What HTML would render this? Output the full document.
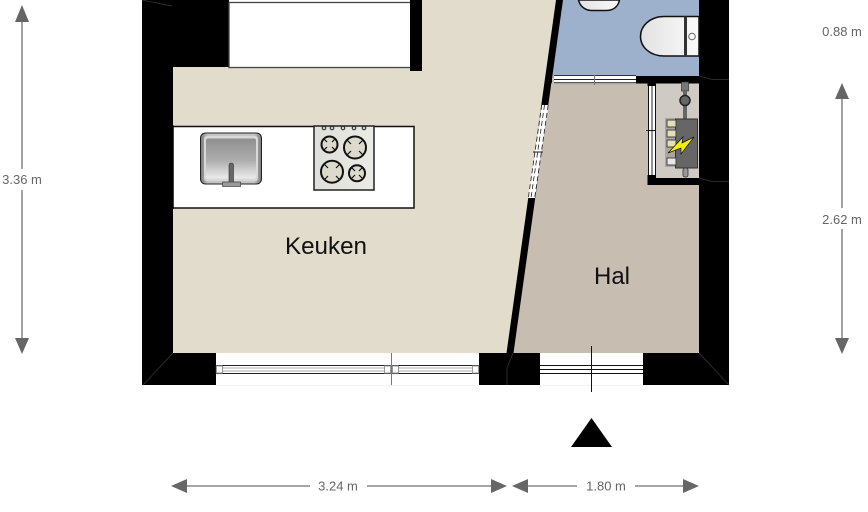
<!DOCTYPE html>
<html><head><meta charset="utf-8"><style>
html,body{margin:0;padding:0;background:#fff}
svg{display:block}
text{font-family:"Liberation Sans",sans-serif}
.d{font-size:13px;fill:#666}
</style></head><body>
<svg width="868" height="512" viewBox="0 0 868 512" xmlns="http://www.w3.org/2000/svg">
<defs>
<linearGradient id="sk" x1="0" y1="0" x2="0" y2="1"><stop offset="0" stop-color="#8f8f8f"/><stop offset=".55" stop-color="#aeaeae"/><stop offset="1" stop-color="#ececec"/></linearGradient>
<linearGradient id="rim" x1="0" y1="0" x2="1" y2="0"><stop offset="0" stop-color="#777"/><stop offset=".12" stop-color="#c4c4c4"/><stop offset=".88" stop-color="#c4c4c4"/><stop offset="1" stop-color="#777"/></linearGradient>
<linearGradient id="ty" x1="0" y1="0" x2="1" y2="0"><stop offset="0" stop-color="#e2e2e2"/><stop offset="1" stop-color="#fafafa"/></linearGradient>
<linearGradient id="st" x1="0" y1="0" x2="1" y2="0"><stop offset="0" stop-color="#dededa"/><stop offset="1" stop-color="#ebebe6"/></linearGradient>
</defs>
<!-- floors -->
<polygon points="173,0 560,0 510,353 173,353" fill="#e1dccb"/>
<polygon points="560,0 699,0 699,78 550,78" fill="#9db1cd"/>
<polygon points="550,78 699,78 699,353 510,353" fill="#c7bdb1"/>
<rect x="648" y="83" width="51" height="97" fill="#cfcac3"/>
<!-- walls -->
<rect x="142" y="0" width="31" height="385" fill="#000"/>
<rect x="142" y="0" width="87" height="67" fill="#000"/>
<rect x="229" y="0" width="182" height="2" fill="#fff"/>
<rect x="229" y="2.500" width="182" height="65" fill="#fff" stroke="#444" stroke-width="1.300"/>
<rect x="410" y="0" width="12" height="71" fill="#000"/>
<rect x="142" y="353" width="74" height="32" fill="#000"/>
<rect x="479" y="353" width="61" height="32" fill="#000"/>
<rect x="643" y="353" width="86" height="32" fill="#000"/>
<rect x="699" y="0" width="30" height="385" fill="#000"/>
<rect x="216" y="353" width="263" height="32" fill="#fff"/>
<rect x="540" y="353" width="103" height="32" fill="#fff"/>
<polygon points="556,0 563,0 513.500,353 506.500,353" fill="#000"/>
<rect x="636" y="76" width="63" height="7.500" fill="#000"/>
<polygon points="648,178 699,178 699,185 648,185" fill="#000"/>
<!-- thin wall lines -->
<g stroke="#2a2a2a" stroke-width="1" fill="none">
<line x1="143" y1="385" x2="173" y2="353"/>
<line x1="729" y1="385" x2="699" y2="353"/>
<line x1="507" y1="385" x2="507" y2="368"/>
<line x1="507" y1="368" x2="513" y2="353"/>
<polyline points="699,76 712,79.500 729,79.500"/>
<polyline points="699,178 712,181.500 729,181.500"/>
<line x1="142" y1="0" x2="172" y2="6"/>
</g>
<!-- diagonal window -->
<polygon points="541.500,105 548.500,105 535,198 528,198" fill="#fff"/>
<g stroke="#222" stroke-width=".8" fill="none" stroke-dasharray="5 3">
<line x1="541.800" y1="105" x2="528.300" y2="198"/>
<line x1="544.500" y1="105" x2="531" y2="198"/>
<line x1="548.200" y1="105" x2="534.700" y2="198"/>
</g>
<line x1="533" y1="152" x2="543" y2="152" stroke="#222"/>
<!-- blue/hall door -->
<rect x="554" y="75" width="82" height="8" fill="#fff"/>
<rect x="554" y="75" width="82" height="1" fill="#333"/>
<rect x="554" y="79" width="82" height="1" fill="#222"/>
<rect x="554" y="82" width="82" height="1" fill="#555"/>
<rect x="554" y="83" width="82" height="1.500" fill="#b0aaa2"/>
<line x1="594.500" y1="75" x2="594.500" y2="85" stroke="#777"/>
<polygon points="545,79 552,75.500 552,83" fill="#000"/>
<!-- closet door -->
<rect x="648" y="86" width="8" height="89" fill="#fff"/>
<rect x="648" y="86" width="1" height="89" fill="#111"/>
<rect x="651.500" y="86" width="1" height="89" fill="#222"/>
<rect x="655" y="86" width="1" height="89" fill="#111"/>
<rect x="647.500" y="83" width="8.500" height="3" fill="#000"/>
<polygon points="647.500,84 651.500,79 656,84" fill="#000"/>
<rect x="647.500" y="175" width="8.500" height="10" fill="#000"/>
<line x1="646" y1="130.500" x2="656" y2="130.500" stroke="#111"/>
<!-- counter -->
<rect x="173" y="126.500" width="241" height="81.500" fill="#fff" stroke="#111" stroke-width="1.500"/>
<rect x="172" y="125" width="1.500" height="84" fill="#000"/>
<!-- sink -->
<rect x="200.500" y="133" width="61" height="51" rx="5" fill="url(#rim)" stroke="#222" stroke-width="1"/>
<rect x="204" y="136" width="54" height="45" rx="3" fill="#d8d8d8"/>
<rect x="206" y="138.500" width="50" height="40" rx="2" fill="url(#sk)"/>
<rect x="229" y="163" width="4.500" height="22" rx="2.200" fill="#666" stroke="#333" stroke-width=".6"/>
<rect x="222.500" y="182" width="18" height="4.500" fill="#999" stroke="#444" stroke-width=".7"/>
<!-- stove -->
<rect x="314" y="126" width="60" height="64" fill="url(#st)" stroke="#222" stroke-width="1.500"/>
<g fill="#ccc" stroke="#222" stroke-width="1"><circle cx="324" cy="128" r="1.800"/><circle cx="332" cy="128" r="1.800"/><circle cx="343" cy="128" r="1.800"/><circle cx="354" cy="128" r="1.800"/><circle cx="364" cy="128" r="1.800"/></g>
<g fill="#dbdacd" stroke="#111" stroke-width="2">
<circle cx="329.500" cy="144.500" r="8"/><circle cx="355" cy="147.500" r="11"/><circle cx="332" cy="171.700" r="11"/><circle cx="357" cy="173.300" r="8"/></g>
<g stroke="#111" stroke-width="1.200" fill="none">
<path d="M324 139l3 3M335 139l-3 3M324 150l3-3M335 150l-3-3"/>
<path d="M347 140l4 4M363 140l-4 4M347 155l4-4M363 155l-4-4"/>
<path d="M324 164l4 4M340 164l-4 4M324 180l4-4M340 180l-4-4"/>
<path d="M352 168l3 3M362 168l-3 3M352 178l3-3M362 178l-3-3"/>
</g>
<!-- toilet -->
<path d="M699 16.500H664C650 16.500 640.500 26 640.500 36.500S650 56 664 56H699Z" fill="url(#ty)" stroke="#111" stroke-width="1.500"/>
<rect x="684" y="16.500" width="3" height="39.500" fill="#333"/>
<circle cx="692" cy="36.500" r="3.300" fill="none" stroke="#666" stroke-width="1"/>
<!-- basin -->
<path d="M578.500 0C580 7 586 10.500 592 10.500H606C613 10.500 618 7 619.500 0Z" fill="url(#ty)" stroke="#111" stroke-width="1.500"/>
<!-- meter -->
<rect x="681.500" y="82" width="7" height="9" fill="#777" stroke="#333" stroke-width=".7"/>
<rect x="683" y="91" width="4" height="28" fill="#666"/>
<circle cx="685" cy="100.500" r="5" fill="#666" stroke="#222" stroke-width="1.500"/>
<rect x="665" y="118" width="11" height="49" fill="#aaa69e"/>
<rect x="675.500" y="119" width="22" height="49" fill="#666" stroke="#333" stroke-width="1"/>
<rect x="667" y="120" width="9" height="7" fill="#e2e0b8" stroke="#444" stroke-width="1"/>
<rect x="667" y="130" width="9" height="7" fill="#e2e0b8" stroke="#444" stroke-width="1"/>
<rect x="667" y="140" width="9" height="7" fill="#e2e0b8" stroke="#444" stroke-width="1"/>
<rect x="667" y="158" width="9" height="7" fill="#e8e8e8" stroke="#444" stroke-width="1"/>
<rect x="683" y="168" width="5" height="9" rx="2" fill="#999" stroke="#333" stroke-width=".8"/>
<polygon points="668,153 683,137 682,143 694,137 681,154 681,148" fill="#f5f000" stroke="#111" stroke-width=".7"/>
<!-- bottom window -->
<rect x="216" y="365.500" width="263" height="8" fill="#fff" stroke="#222" stroke-width="1"/>
<g stroke="#aaa" stroke-width="1"><line x1="216" y1="368" x2="479" y2="368"/><line x1="216" y1="371" x2="479" y2="371"/></g>
<g fill="#fff" stroke="#999" stroke-width="1"><rect x="216.500" y="366" width="6" height="7"/><rect x="384.500" y="366" width="6" height="7"/><rect x="392.500" y="366" width="6" height="7"/><rect x="472.500" y="366" width="6" height="7"/></g>
<line x1="391.500" y1="353" x2="391.500" y2="385" stroke="#777"/>
<rect x="216" y="385" width="263" height=".8" fill="#eee"/>
<rect x="540" y="385" width="103" height=".8" fill="#eee"/>
<!-- hall door -->
<g stroke="#111" stroke-width="1"><line x1="540" y1="365.500" x2="643" y2="365.500"/><line x1="540" y1="369.500" x2="643" y2="369.500"/><line x1="540" y1="373.500" x2="643" y2="373.500"/></g>
<line x1="591.500" y1="346" x2="591.500" y2="392" stroke="#111"/>
<polygon points="591.500,418 571,447 612,447" fill="#000"/>
<!-- labels -->
<text x="326" y="254" font-size="24.200" text-anchor="middle" fill="#111">Keuken</text>
<text x="612" y="284" font-size="24" text-anchor="middle" fill="#111">Hal</text>
<!-- dims -->
<g stroke="#9a9a9a" stroke-width="1.800" fill="none">
<line x1="22" y1="20" x2="22" y2="169"/><line x1="22" y1="190" x2="22" y2="340"/>
<line x1="842" y1="96" x2="842" y2="208"/><line x1="842" y1="229" x2="842" y2="340"/>
<line x1="185" y1="486" x2="310" y2="486"/><line x1="367" y1="486" x2="495" y2="486"/>
<line x1="525" y1="486" x2="577" y2="486"/><line x1="635" y1="486" x2="686" y2="486"/>
</g>
<g fill="#666">
<polygon points="22,5 15,22 29,22"/><polygon points="22,354 15,338 29,338"/>
<polygon points="842,83 835,99 849,99"/><polygon points="842,354 835,338 849,338"/>
<polygon points="171,486 187,479 187,493"/><polygon points="507,486 491,479 491,493"/>
<polygon points="512,486 528,479 528,493"/><polygon points="699,486 683,479 683,493"/>
</g>
<text class="d" x="22" y="184" text-anchor="middle">3.36 m</text>
<text class="d" x="842" y="36" text-anchor="middle">0.88 m</text>
<text class="d" x="842" y="224" text-anchor="middle">2.62 m</text>
<text class="d" x="338" y="490.500" text-anchor="middle">3.24 m</text>
<text class="d" x="606" y="490.500" text-anchor="middle">1.80 m</text>
</svg>
</body></html>
